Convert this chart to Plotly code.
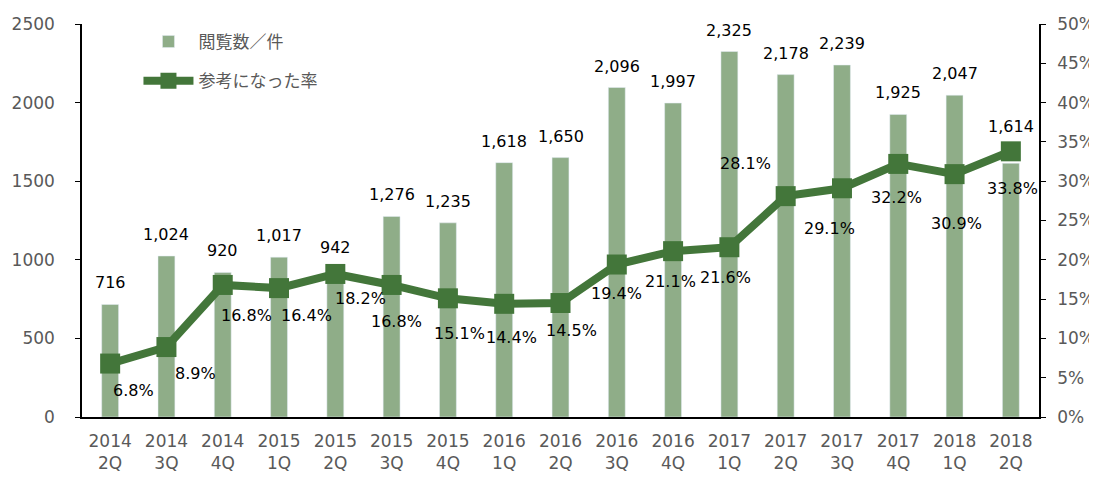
import plotly.graph_objects as go

categories = ["2014<br>2Q", "2014<br>3Q", "2014<br>4Q", "2015<br>1Q", "2015<br>2Q", "2015<br>3Q",
              "2015<br>4Q", "2016<br>1Q", "2016<br>2Q", "2016<br>3Q", "2016<br>4Q", "2017<br>1Q",
              "2017<br>2Q", "2017<br>3Q", "2017<br>4Q", "2018<br>1Q", "2018<br>2Q"]
views = [716, 1024, 920, 1017, 942, 1276, 1235, 1618, 1650, 2096, 1997, 2325, 2178, 2239, 1925, 2047, 1614]
rates = [6.8, 8.9, 16.8, 16.4, 18.2, 16.8, 15.1, 14.4, 14.5, 19.4, 21.1, 21.6, 28.1, 29.1, 32.2, 30.9, 33.8]

# label offsets (px) for the labels, relative to their marks
rate_dx = [23, 29, 24, 27, 25, 5, 12, 7, 11, 0, -3, -4, -40, -12, -2, 2, 2]
rate_dy = [27, 26, 31, 27, 25, 37, 35, 34, 27, 29, 30, 30, -33, 40, 34, 49, 37]
view_dy = [10, 10, 10, 10, 10, 10, 10, 10, 10, 10, 10, 10, 10, 10, 10, 10, 25]

BAR = "#8FAD88"
LINE = "#43763A"
GREY = "#595959"
FONT = "DejaVu Sans, Noto Sans CJK JP, sans-serif"

fig = go.Figure()
fig.add_trace(go.Bar(x=categories, y=views, name="閲覧数／件", marker_color=BAR,
                     width=0.3, legendgroup="a", yaxis="y"))
fig.add_trace(go.Scatter(x=categories, y=[r / 100 for r in rates], name="参考になった率",
                         mode="lines+markers", line=dict(color=LINE, width=8),
                         marker=dict(symbol="square", size=20, color=LINE),
                         legendgroup="b", yaxis="y2"))

annotations = []
for c, v, dy in zip(categories, views, view_dy):
    annotations.append(dict(x=c, y=v, xref="x", yref="y", text=f"{v:,}", showarrow=False,
                            yanchor="bottom", yshift=dy, font=dict(size=16, color="black", family=FONT)))
for c, r, dx, dy in zip(categories, rates, rate_dx, rate_dy):
    annotations.append(dict(x=c, y=r / 100, xref="x", yref="y2", text=f"{r:.1f}%", showarrow=False,
                            xshift=dx, yshift=-dy, font=dict(size=16, color="black", family=FONT)))

fig.update_layout(
    width=1089, height=469,
    margin=dict(l=74, r=58, t=16, b=60),
    plot_bgcolor="white", paper_bgcolor="white",
    font=dict(family=FONT, color=GREY, size=17),
    bargap=0.7,
    showlegend=True,
    legend=dict(x=0.059, y=1.0, xanchor="left", yanchor="top", bgcolor="rgba(0,0,0,0)",
                font=dict(size=17, color=GREY, family=FONT), tracegroupgap=14,
                itemwidth=50),
    xaxis=dict(showline=True, linecolor="black", linewidth=1.5, ticks="", showgrid=False,
               range=[-0.5, len(categories) - 0.5], autorange=False,
               tickfont=dict(size=17, color=GREY), ticklabelstandoff=8, automargin=False),
    yaxis=dict(range=[0, 2500], dtick=500, showline=True, linecolor="black", linewidth=1.5,
               ticks="outside", ticklen=5, tickcolor="black", showgrid=False, zeroline=False,
               tickfont=dict(size=17, color=GREY), ticklabelstandoff=17, automargin=False),
    yaxis2=dict(range=[0, 0.5], dtick=0.05, tickformat=".0%", overlaying="y", side="right",
                showline=True, linecolor="black", linewidth=1.5, ticks="outside", ticklen=5,
                tickcolor="black", showgrid=False, zeroline=False,
                tickfont=dict(size=17, color=GREY), ticklabelstandoff=8, automargin=False),
    annotations=annotations,
)

fig.write_html("out.html")
